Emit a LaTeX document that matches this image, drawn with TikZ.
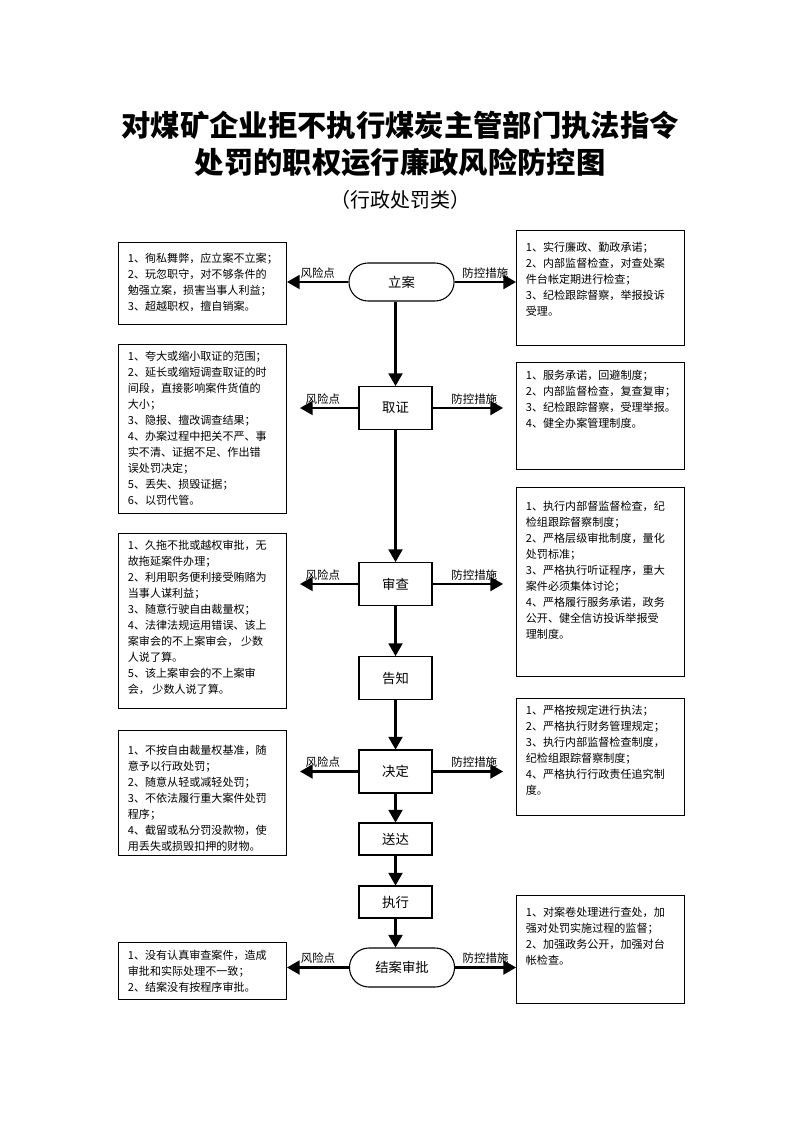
\documentclass[tikz,border=0pt]{standalone}
\usepackage{fontspec}
\setmainfont{Noto Sans CJK SC}
\usepackage{tikz}
\usetikzlibrary{arrows,shapes.misc}
\tikzstyle{flow} = [-triangle 60, line width=1.6pt]
\tikzstyle{procbox} = [draw, line width=0.8pt, minimum width=54.75pt, minimum height=32.25pt, font=\fontsize{10}{12}\selectfont]
\tikzstyle{endbox} = [draw, rounded rectangle, line width=0.8pt, minimum width=85.5pt, minimum height=28.5pt, font=\fontsize{10}{12}\selectfont]
\tikzstyle{notebox} = [draw, line width=0.8pt, anchor=north west, inner xsep=7pt, inner ysep=3pt, font=\fontsize{8.3}{12}\selectfont]
\tikzstyle{tag} = [midway, above, inner sep=2pt, font=\fontsize{8.6}{10}\selectfont]
\newcommand{\notetext}[3]{\begin{minipage}[t][#1][t]{112pt}\vspace*{#2}\raggedright #3\end{minipage}}

\begin{document}
\begin{tikzpicture}[x=0.75pt,y=-0.75pt]
			\useasboundingbox (0,0) rectangle (794,1123);
			% title
			\node[font=\fontsize{22}{26}\selectfont\bfseries] (title1) at (400,125) {对煤矿企业拒不执行煤炭主管部门执法指令};
			\node[font=\fontsize{22}{26}\selectfont\bfseries] (title2) at (400,162) {处罚的职权运行廉政风险防控图};
			\node[font=\fontsize{15}{18}\selectfont] (subtitle) at (400,200) {（行政处罚类）};
			% flow
			\node[endbox] (lian) at (401.5,282) {立案};
			\node[procbox] (quzheng) at (395.5,408) {取证};
			\node[procbox] (shencha) at (395.5,584) {审查};
			\node[procbox] (gaozhi) at (395.5,678) {告知};
			\node[procbox] (jueding) at (395.5,771.5) {决定};
			\node[procbox, minimum height=24pt] (songda) at (395.5,839) {送达};
			\node[procbox, minimum height=24pt] (zhixing) at (395.5,902) {执行};
			\node[endbox, minimum height=29.25pt] (jiean) at (402,967.5) {结案审批};
			% risk points
			\node[notebox] (riskA) at (118,242) {\notetext{55.5pt}{4.9pt}{1、徇私舞弊，应立案不立案；\\2、玩忽职守，对不够条件的\\勉强立案，损害当事人利益；\\3、超越职权，擅自销案。}};
			\node[notebox] (riskB) at (118,344) {\notetext{120.75pt}{1.9pt}{1、夸大或缩小取证的范围；\\2、延长或缩短调查取证的时\\间段，直接影响案件货值的\\大小；\\3、隐报、擅改调查结果；\\4、办案过程中把关不严、事\\实不清、证据不足、作出错\\误处罚决定；\\5、丢失、损毁证据；\\6、以罚代管。}};
			\node[notebox] (riskC) at (118,533) {\notetext{125.25pt}{1.9pt}{1、久拖不批或越权审批，无\\故拖延案件办理；\\2、利用职务便利接受贿赂为\\当事人谋利益；\\3、随意行驶自由裁量权；\\4、法律法规运用错误、该上\\案审会的不上案审会， 少数\\人说了算。\\5、该上案审会的不上案审\\会， 少数人说了算。}};
			\node[notebox] (riskD) at (118,730) {\notetext{87.75pt}{7.9pt}{1、不按自由裁量权基准，随\\意予以行政处罚；\\2、随意从轻或减轻处罚；\\3、不依法履行重大案件处罚\\程序；\\4、截留或私分罚没款物，使\\用丢失或损毁扣押的财物。}};
			\node[notebox] (riskE) at (118,942) {\notetext{36.75pt}{2.6pt}{1、没有认真审查案件，造成\\审批和实际处理不一致；\\2、结案没有按程序审批。}};
			% control measures
			\node[notebox] (ctrlA) at (516,230) {\notetext{80.25pt}{5.6pt}{1、实行廉政、勤政承诺；\\2、内部监督检查，对查处案\\件台帐定期进行检查；\\3、纪检跟踪督察，举报投诉\\受理。}};
			\node[notebox] (ctrlB) at (516,362) {\notetext{74.25pt}{2.6pt}{1、服务承诺，回避制度；\\2、内部监督检查，复查复审；\\3、纪检跟踪督察，受理举报。\\4、健全办案管理制度。}};
			\node[notebox] (ctrlC) at (516,487) {\notetext{136pt}{7.1pt}{1、执行内部督监督检查，纪\\检组跟踪督察制度；\\2、严格层级审批制度，量化\\处罚标准；\\3、严格执行听证程序，重大\\案件必须集体讨论；\\4、严格履行服务承诺，政务\\公开、健全信访投诉举报受\\理制度。}};
			\node[notebox] (ctrlD) at (516,698) {\notetext{81.75pt}{1.9pt}{1、严格按规定进行执法；\\2、严格执行财务管理规定；\\3、执行内部监督检查制度，\\纪检组跟踪督察制度；\\4、严格执行行政责任追究制\\度。}};
			\node[notebox] (ctrlE) at (516,895) {\notetext{75pt}{5.6pt}{1、对案卷处理进行查处，加\\强对处罚实施过程的监督；\\2、加强政务公开，加强对台\\帐检查。}};
			% main line
			\draw[flow] (quzheng.north |- lian.south) -- (quzheng.north);
			\draw[flow] (quzheng) -- (shencha);
			\draw[flow] (shencha) -- (gaozhi);
			\draw[flow] (gaozhi) -- (jueding);
			\draw[flow] (jueding) -- (songda);
			\draw[flow] (songda) -- (zhixing);
			\draw[flow] (zhixing.south) -- (zhixing.south |- jiean.north);
			% side arrows
			\draw[flow] (lian.west) -- (lian.west -| riskA.east) node[tag]{风险点};
			\draw[flow] (lian.east) -- (lian.east -| ctrlA.west) node[tag]{防控措施};
			\draw[flow, shorten >=9.75pt] (quzheng.west) -- (quzheng.west -| riskB.east) node[tag]{风险点};
			\draw[flow, shorten >=9.75pt] (quzheng.east) -- (quzheng.east -| ctrlB.west) node[tag]{防控措施};
			\draw[flow, shorten >=9.75pt] (shencha.west) -- (shencha.west -| riskC.east) node[tag]{风险点};
			\draw[flow, shorten >=9.75pt] (shencha.east) -- (shencha.east -| ctrlC.west) node[tag]{防控措施};
			\draw[flow, shorten >=9.75pt] (jueding.west) -- (jueding.west -| riskD.east) node[tag]{风险点};
			\draw[flow, shorten >=9.75pt] (jueding.east) -- (jueding.east -| ctrlD.west) node[tag]{防控措施};
			\draw[flow] (jiean.west) -- (jiean.west -| riskE.east) node[tag]{风险点};
			\draw[flow] (jiean.east) -- (jiean.east -| ctrlE.west) node[tag]{防控措施};
		\end{tikzpicture}
\end{document}
